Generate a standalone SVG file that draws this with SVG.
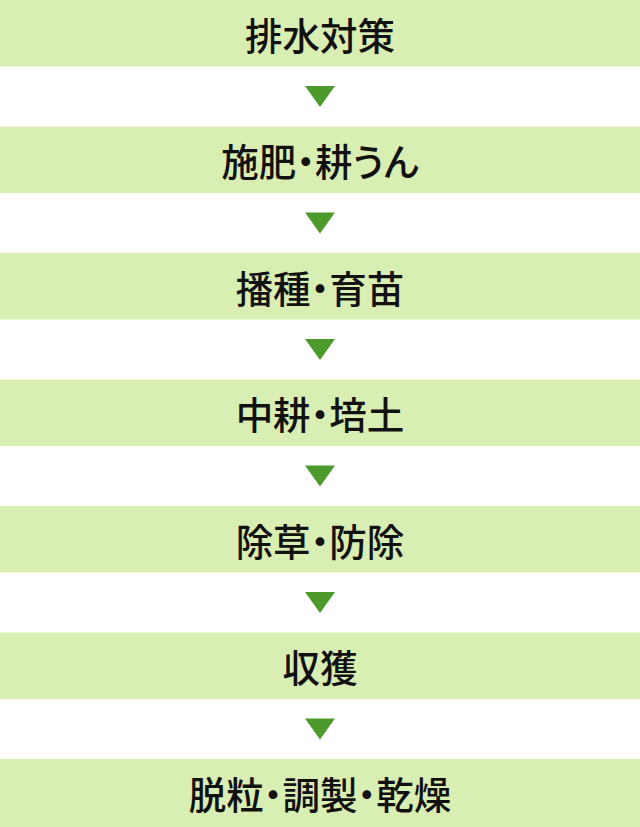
<svg xmlns="http://www.w3.org/2000/svg" width="640" height="827" viewBox="0 0 640 827">
<style>
.band{fill:#d9eeb3}
.lbl{font-family:"Noto Sans CJK JP","Noto Sans",sans-serif;font-size:37.5px;font-weight:500;fill:#111;text-anchor:middle;dominant-baseline:central;font-feature-settings:"palt"}
.arr{fill:#4c9a2c}
</style>
<rect width="640" height="827" fill="#fff"/>
<g id="n1"><rect class="band" x="0" y="0" width="640" height="66.5"/><text class="lbl" x="320" y="33">排水対策</text></g>
<g id="n2"><rect class="band" x="0" y="126.5" width="640" height="66.5"/><text class="lbl" x="320" y="159.5">施肥・耕うん</text></g>
<g id="n3"><rect class="band" x="0" y="253" width="640" height="66.5"/><text class="lbl" x="320" y="286">播種・育苗</text></g>
<g id="n4"><rect class="band" x="0" y="379.5" width="640" height="66.5"/><text class="lbl" x="320" y="412.5">中耕・培土</text></g>
<g id="n5"><rect class="band" x="0" y="506" width="640" height="66.5"/><text class="lbl" x="320" y="539">除草・防除</text></g>
<g id="n6"><rect class="band" x="0" y="632.5" width="640" height="66.5"/><text class="lbl" x="320" y="665.5">収獲</text></g>
<g id="n7"><rect class="band" x="0" y="759" width="640" height="68"/><text class="lbl" x="320" y="792.5">脱粒・調製・乾燥</text></g>
<g id="connectors">
<polygon class="arr" points="305,86 335,86 320,107"/>
<polygon class="arr" points="305,212.5 335,212.5 320,233.5"/>
<polygon class="arr" points="305,339 335,339 320,360"/>
<polygon class="arr" points="305,465.5 335,465.5 320,486.5"/>
<polygon class="arr" points="305,592 335,592 320,613"/>
<polygon class="arr" points="305,718.5 335,718.5 320,739.5"/>
</g>
</svg>
